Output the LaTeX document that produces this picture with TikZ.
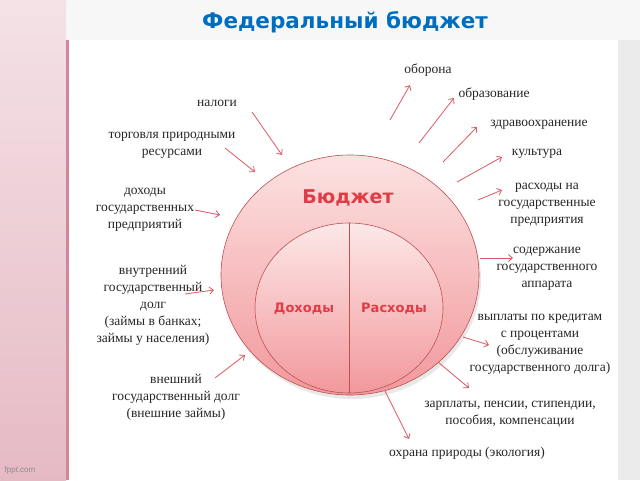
\documentclass[tikz,border=0pt]{standalone}
\usepackage{fontspec}
\setmainfont{Liberation Serif}
\newfontfamily\headfont{DejaVu Sans}
\newfontfamily\smallsans{Liberation Sans}
\usetikzlibrary{arrows.meta,shapes.geometric}
\definecolor{titleblue}{RGB}{0,110,190}
\definecolor{arrowred}{RGB}{222,88,98}
\definecolor{rimred}{RGB}{190,80,80}
\definecolor{wordred}{RGB}{225,60,70}
\definecolor{bandtop}{RGB}{244,226,230}
\definecolor{bandbot}{RGB}{230,186,197}
\definecolor{bandline}{RGB}{208,135,155}
\definecolor{pinktop}{RGB}{252,226,226}
\definecolor{pinkbot}{RGB}{242,152,156}
\tikzset{
  lbl/.style={align=center, font=\fontsize{13.5}{17}\selectfont, text=black!85, inner sep=0pt},
  arr/.style={draw=arrowred, line width=0.8pt, -{Straight Barb[length=4pt,width=7pt]}},
  bigword/.style={font=\headfont\bfseries, text=wordred, inner sep=0pt}
}
\begin{document}
\begin{tikzpicture}[x=1pt,y=-1pt]
\useasboundingbox (0,0) rectangle (640,480);
% backgrounds
\fill[black!3] (0,0) rectangle (640,480);
\shade[top color=bandtop, bottom color=bandbot] (0,0) rectangle (66,480);
\fill[bandline] (66,40) rectangle (69,480);
\fill[black!8] (618,40) rectangle (640,480);
\fill[white] (69,40) rectangle (618,480);
\node[font=\smallsans\fontsize{8}{9}\selectfont, text=black!45] (fppt) at (20,470) {fppt.com};
% title
\node[font=\headfont\bfseries\fontsize{21.5}{25}\selectfont, text=titleblue] (title) at (345,22) {Федеральный бюджет};
% circles
\fill[black!25, opacity=0.35] (352,279) ellipse [x radius=129, y radius=120];
\node[ellipse, draw=rimred, line width=0.6pt, top color=pinktop, bottom color=pinkbot, minimum width=258pt, minimum height=240pt, inner sep=0pt] (outer) at (350,275) {};
\node[ellipse, draw=rimred, line width=0.6pt, top color=pinktop!80!white, bottom color=pinkbot, minimum width=188pt, minimum height=170pt, inner sep=0pt] (inner) at (349,308) {};
\draw[rimred, line width=0.6pt] (inner.north) -- (inner.south);
\node[bigword, font=\headfont\bfseries\fontsize{19}{22}\selectfont] (budget) at (348,198) {Бюджет};
\node[bigword, font=\headfont\bfseries\fontsize{13}{15}\selectfont] (inc) at (304,309) {Доходы};
\node[bigword, font=\headfont\bfseries\fontsize{13}{15}\selectfont] (exp) at (394,309) {Расходы};
% left labels
\node[lbl] (nalogi) at (217,103) {налоги};
\node[lbl] (torg) at (172,145) {торговля природными\\ресурсами};
\node[lbl] (dohgos) at (145,210) {доходы\\государственных\\предприятий};
\node[lbl] (vnutr) at (153,305) {внутренний\\государственный\\долг\\(займы в банках;\\займы у населения)};
\node[lbl] (vnesh) at (176,397) {внешний\\государственный долг\\(внешние займы)};
% right labels
\node[lbl] (obor) at (428,70) {оборона};
\node[lbl] (obraz) at (494,94) {образование};
\node[lbl] (zdrav) at (539,125) {здравоохранение};
\node[lbl] (kult) at (537,154) {культура};
\node[lbl] (rashpred) at (547,205) {расходы на\\государственные\\предприятия};
\node[lbl] (sod) at (547,269) {содержание\\государственного\\аппарата};
\node[lbl] (vypl) at (540,344) {выплаты по кредитам\\с процентами\\(обслуживание\\государственного долга)};
\node[lbl] (zarp) at (510,414) {зарплаты, пенсии, стипендии,\\пособия, компенсации};
\node[lbl] (ohr) at (467,453) {охрана природы (экология)};
% arrow end points
\coordinate (a1s) at (252,112); \coordinate (a1e) at (282,155);
\coordinate (a2s) at (225,148); \coordinate (a2e) at (255,172);
\coordinate (a3s) at (195,210); \coordinate (a3e) at (220,215);
\coordinate (a4s) at (185,294); \coordinate (a4e) at (214,290);
\coordinate (a5s) at (215,378); \coordinate (a5e) at (245,355);
\coordinate (b1s) at (390,120); \coordinate (b1e) at (410,85);
\coordinate (b2s) at (419,143); \coordinate (b2e) at (454,98);
\coordinate (b3s) at (443,162); \coordinate (b3e) at (477,127);
\coordinate (b4s) at (457,182); \coordinate (b4e) at (502,157);
\coordinate (b5s) at (478,200); \coordinate (b5e) at (502,190);
\coordinate (b6s) at (480,258); \coordinate (b6e) at (513,258);
\coordinate (b7s) at (463,337); \coordinate (b7e) at (489,345);
\coordinate (b8s) at (438,362); \coordinate (b8e) at (469,388);
\coordinate (b9s) at (385,391); \coordinate (b9e) at (409,439);
\foreach \s/\e in {a1s/a1e,a2s/a2e,a3s/a3e,a4s/a4e,a5s/a5e,b1s/b1e,b2s/b2e,b3s/b3e,b4s/b4e,b5s/b5e,b6s/b6e,b7s/b7e,b8s/b8e,b9s/b9e}
  \draw[arr] (\s) -- (\e);
\end{tikzpicture}
\end{document}
